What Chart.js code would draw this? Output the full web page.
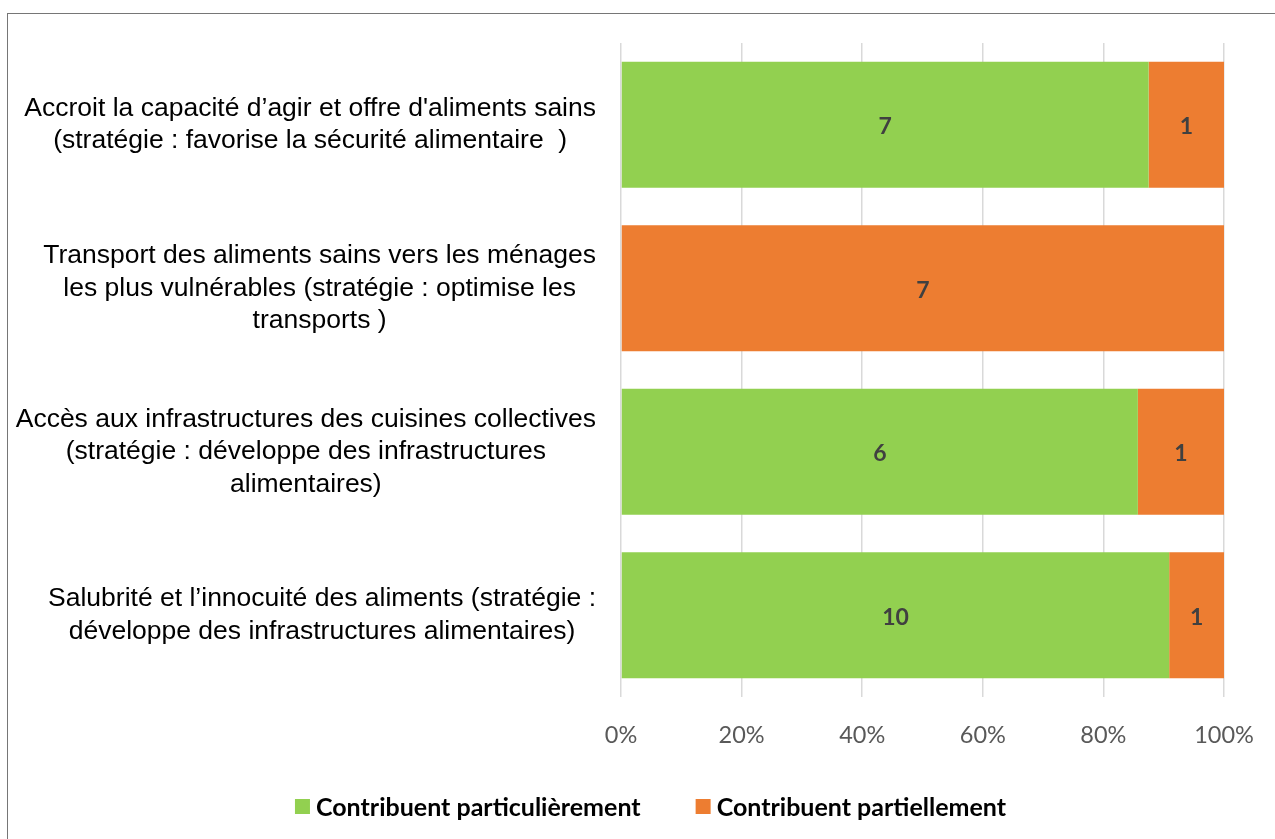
<!DOCTYPE html>
<html>
<head>
<meta charset="utf-8">
<script src="https://cdn.jsdelivr.net/npm/chart.js@4"></script>
<style>
  html, body { margin: 0; padding: 0; background: #ffffff; }
  #wrap { position: relative; width: 1275px; height: 839px; }
</style>
</head>
<body>
<div id="wrap"><canvas id="c"></canvas></div>
<script>
const categories = [
  ["Accroit la capacité d’agir et offre d'aliments sains", "(stratégie : favorise la sécurité alimentaire  )"],
  ["Transport des aliments sains vers les ménages", "les plus vulnérables (stratégie : optimise les", "transports )"],
  ["Accès aux infrastructures des cuisines collectives", "(stratégie : développe des infrastructures", "alimentaires)"],
  ["Salubrité et l’innocuité des aliments (stratégie :", "développe des infrastructures alimentaires)"]
];
const seriesNames = ["Contribuent particulièrement", "Contribuent partiellement"];
const particulierement = [7, 0, 6, 10];
const partiellement = [1, 7, 1, 1];
const xTickValues = [0, 20, 40, 60, 80, 100];

const totals = particulierement.map((v, i) => v + partiellement[i]);
const pctA = particulierement.map((v, i) => v / totals[i] * 100);
const pctB = partiellement.map((v, i) => v / totals[i] * 100);
const counts = [particulierement, partiellement];

const LABEL_FONT = '26.5px "Liberation Sans", Arial, sans-serif';
const LABEL_LH = 32.5;

const customPlugin = {
  id: 'custom',
  beforeDraw(chart) {
    const ctx = chart.ctx;
    ctx.save();
    ctx.strokeStyle = '#767676';
    ctx.lineWidth = 1;
    ctx.strokeRect(7.5, 13.5, 3000, 3000);
    ctx.restore();
  },
  afterDraw(chart) {
    const ctx = chart.ctx;
    const yScale = chart.scales.y;
    const area = chart.chartArea;
    ctx.save();
    ctx.font = LABEL_FONT;
    ctx.fillStyle = '#000000';
    ctx.textAlign = 'center';
    ctx.textBaseline = 'middle';
    const rightEdge = area.left - 25;
    categories.forEach((lines, i) => {
      const yc = yScale.getPixelForTick(i);
      const widest = Math.max(...lines.map(l => ctx.measureText(l).width));
      const cx = rightEdge - widest / 2;
      const y0 = yc - (lines.length - 1) * LABEL_LH / 2;
      lines.forEach((l, k) => ctx.fillText(l, cx, y0 + k * LABEL_LH));
    });
    ctx.restore();

    ctx.save();
    ctx.font = 'bold 23px Lato, "Open Sans", sans-serif';
    ctx.fillStyle = '#404040';
    ctx.textAlign = 'center';
    ctx.textBaseline = 'middle';
    chart.data.datasets.forEach((ds, di) => {
      const meta = chart.getDatasetMeta(di);
      meta.data.forEach((el, i) => {
        const v = counts[di][i];
        if (!v) return;
        const p = el.getProps(['x', 'y', 'base'], true);
        ctx.fillText(String(v), (p.x + p.base) / 2, p.y + 2);
      });
    });
    ctx.restore();

    ctx.save();
    ctx.font = 'bold 25px Lato, "Open Sans", sans-serif';
    ctx.textBaseline = 'middle';
    ctx.textAlign = 'left';
    const box = 15, boxGap = 6, itemGap = 55;
    const widths = chart.data.datasets.map(ds => box + boxGap + ctx.measureText(ds.label).width);
    const total = widths.reduce((a, b) => a + b, 0) + itemGap * (widths.length - 1);
    let x = 650.5 - total / 2;
    const ly = 806.5;
    chart.data.datasets.forEach((ds, di) => {
      ctx.fillStyle = ds.backgroundColor;
      ctx.fillRect(x, ly - box / 2, box, box);
      ctx.fillStyle = '#000000';
      ctx.fillText(ds.label, x + box + boxGap, ly + 1);
      x += widths[di] + itemGap;
    });
    ctx.restore();
  }
};

new Chart(document.getElementById('c'), {
  type: 'bar',
  data: {
    labels: categories,
    datasets: [
      { label: seriesNames[0], data: pctA, backgroundColor: '#92D050', borderWidth: 0 },
      { label: seriesNames[1], data: pctB, backgroundColor: '#ED7D31', borderWidth: 0 }
    ]
  },
  options: {
    indexAxis: 'y',
    responsive: true,
    maintainAspectRatio: false,
    animation: false,
    layout: { padding: { top: 43, right: 51, bottom: 0, left: 0 } },
    datasets: { bar: { categoryPercentage: 0.77, barPercentage: 1 } },
    plugins: { legend: { display: false }, tooltip: { enabled: false } },
    scales: {
      x: {
        stacked: true,
        min: 0, max: 100,
        afterBuildTicks(scale) { scale.ticks = xTickValues.map(v => ({ value: v })); },
        afterFit(scale) { scale.height = 142; scale.paddingRight = 0; scale.paddingLeft = 0; },
        grid: { color: '#d9d9d9', lineWidth: 1.5, drawTicks: false },
        border: { display: false },
        ticks: {
          padding: 24,
          color: '#595959',
          font: { family: 'Lato, "Open Sans", sans-serif', size: 23.5 },
          callback: v => v + '%'
        }
      },
      y: {
        stacked: true,
        afterFit(scale) { scale.width = 621; },
        grid: { display: false },
        border: { display: false },
        ticks: { display: false }
      }
    }
  },
  plugins: [customPlugin]
});
</script>
</body>
</html>
